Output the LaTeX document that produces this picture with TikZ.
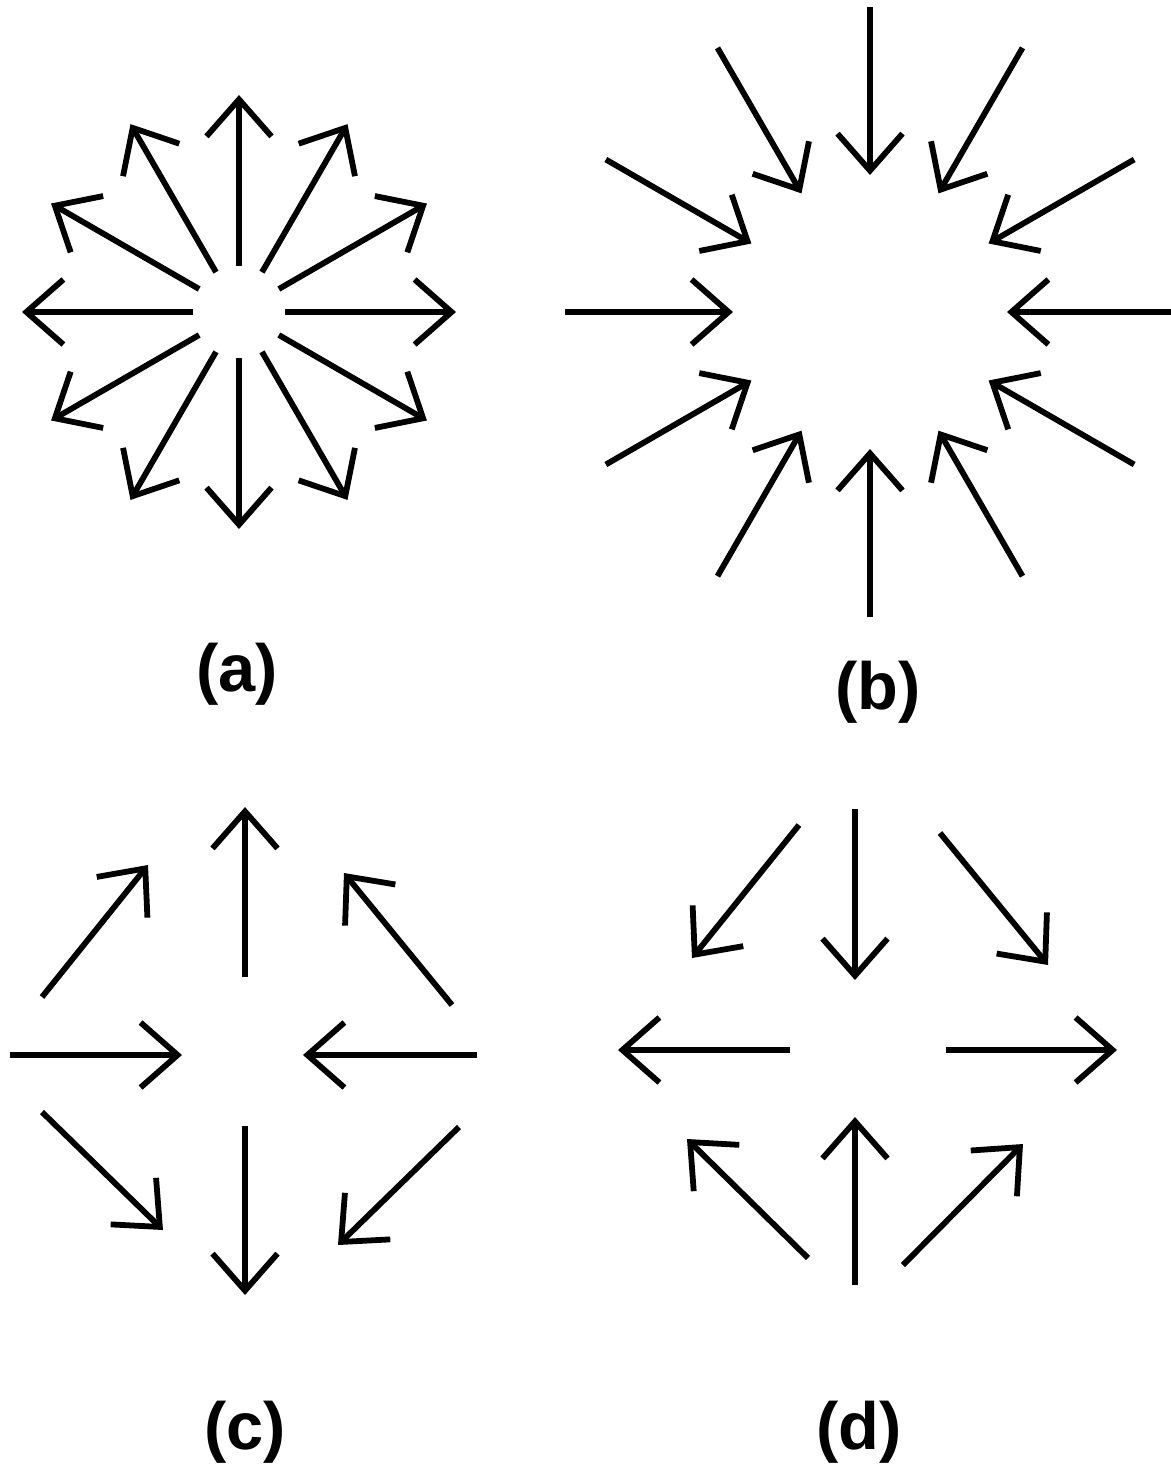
\documentclass[tikz,border=0pt]{standalone}
\usepackage{fontspec}
\setmainfont{Liberation Sans}
\usepackage{tikz}
\usetikzlibrary{arrows.meta}

\begin{document}
\begin{tikzpicture}[
  arr/.style={-{Straight Barb[length=3.7mm, width=6.5mm]}, line width=1.65pt},
  panellabel/.style={font=\fontsize{19}{22}\selectfont\bfseries, inner sep=0pt},
]

\useasboundingbox (0,0) rectangle (11.71,-14.68);

%% --- panel centres -----------------------------------------------------------

\coordinate (ca) at (2.39,-3.12);
\coordinate (cb) at (8.70,-3.12);
\coordinate (cc) at (2.45,-10.55);
\coordinate (cd) at (8.55,-10.50);

%% --- (a) source: twelve arrows pointing out ---------------------------------

\foreach \ang in {0,30,...,330}{
  \draw[arr] ([shift={(\ang:0.46)}]ca) -- ([shift={(\ang:2.17)}]ca);
}

%% --- (b) sink: twelve arrows pointing in ------------------------------------

\foreach \ang in {0,30,...,330}{
  \draw[arr] ([shift={(\ang:3.05)}]cb) -- ([shift={(\ang:1.37)}]cb);
}

%% --- (c) saddle, in along x, out along y -------------------------------------

\foreach \x/\y/\u/\v in {0/0.78/0/2.48, 0/-0.71/0/-2.40,
                         -2.35/0/-0.63/0, 2.32/0/0.58/0,
                         -2.03/0.58/-0.97/1.90, 2.07/0.50/0.99/1.82,
                         -2.03/-0.57/-0.82/-1.75, 2.14/-0.72/0.93/-1.90}{
  \draw[arr] ([shift={(\x,\y)}]cc) -- ([shift={(\u,\v)}]cc);
}

%% --- (d) saddle, out along x, in along y -------------------------------------

\foreach \x/\y/\u/\v in {0/2.41/0/0.70, 0/-2.35/0/-0.67,
                         -0.65/0/-2.37/0, 0.91/0/2.62/0,
                         -0.56/2.25/-1.63/0.92, 0.85/2.17/1.93/0.85,
                         -0.47/-2.08/-1.68/-0.89, 0.48/-2.15/1.68/-0.94}{
  \draw[arr] ([shift={(\x,\y)}]cd) -- ([shift={(\u,\v)}]cd);
}

%% --- labels -----------------------------------------------------------------

\node[panellabel] (la) at (2.37,-6.74)  {(a)};
\node[panellabel] (lb) at (8.78,-6.92)  {(b)};
\node[panellabel] (lc) at (2.45,-14.32) {(c)};
\node[panellabel] (ld) at (8.59,-14.32) {(d)};

\end{tikzpicture}
\end{document}
